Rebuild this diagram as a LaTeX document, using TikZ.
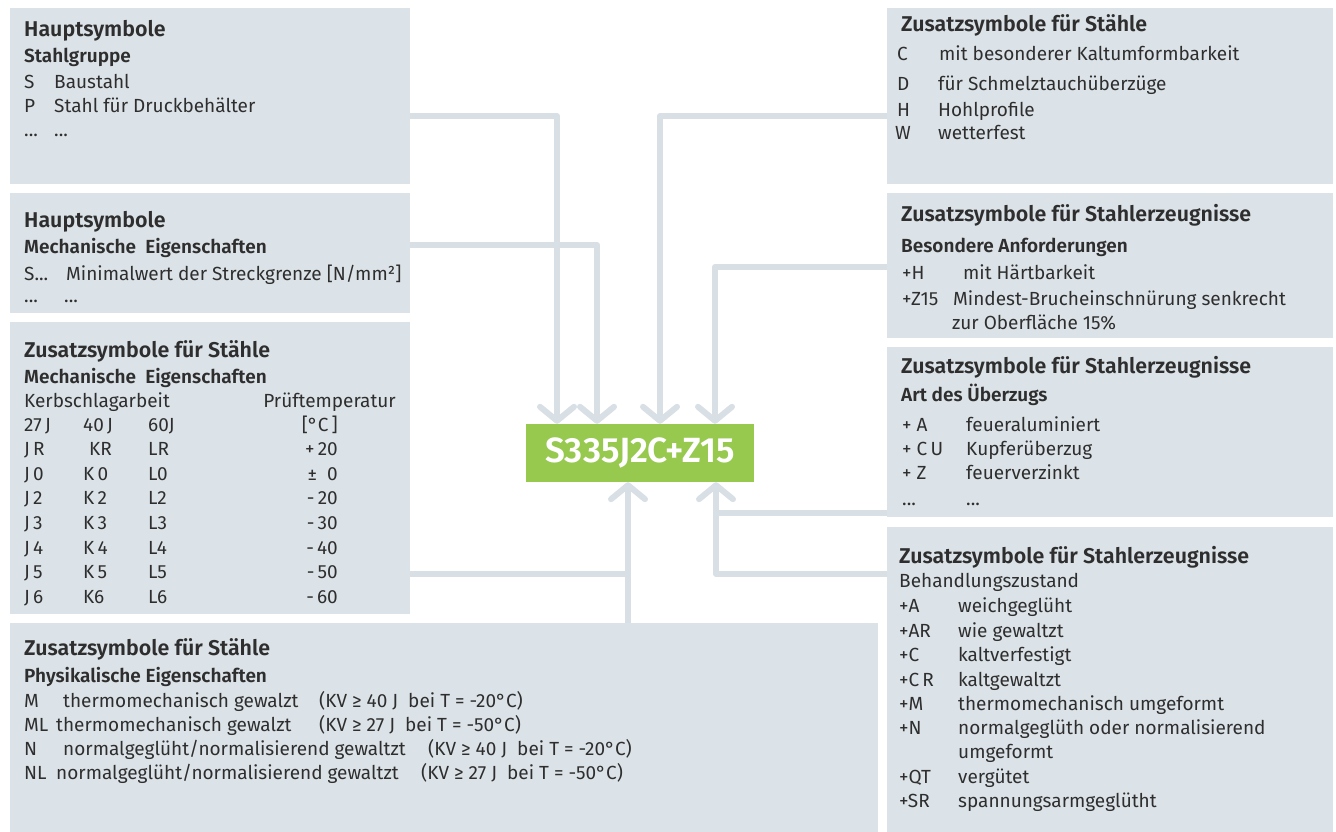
\documentclass[tikz,border=0pt]{standalone}
\usepackage{fontspec}
\setmainfont{Fira Sans}[BoldFont={Fira Sans SemiBold}]
\usetikzlibrary{arrows.meta}
\definecolor{boxc}{HTML}{DCE3E8}
\definecolor{linec}{HTML}{D8E0E6}
\definecolor{greenc}{HTML}{97C94F}
\definecolor{txtc}{HTML}{2E2E2E}
\tikzset{
 panel/.style={fill=boxc, draw=none, inner sep=0pt, outer sep=0pt, anchor=north west},
 ttl/.style={anchor=base west, inner sep=0pt, text=txtc, font=\fontsize{21.4}{24}\selectfont\bfseries},
 sub/.style={anchor=base west, inner sep=0pt, text=txtc, font=\fontsize{19}{22}\selectfont\bfseries},
 bod/.style={anchor=base west, inner sep=0pt, text=txtc, font=\fontsize{19}{22}\selectfont},
 bodr/.style={bod, anchor=base east},
 conn/.style={draw=linec, line width=6pt, line join=round},
 arr/.style={conn, -{Straight Barb[length=14pt, width=34pt, round]}},
}
\newcommand\kvline[3]{(KV ≥ #1 J\hspace{10pt}bei T = #2°C)}
\begin{document}
\begin{tikzpicture}[x=1pt,y=-1pt]
\useasboundingbox (0,0) rectangle (1336,832);
% panels
\node[panel, minimum width=400pt, minimum height=176pt] (L1) at (10,8) {};
\node[panel, minimum width=400pt, minimum height=120pt] (L2) at (10,193) {};
\node[panel, minimum width=400pt, minimum height=292pt] (L3) at (10,322) {};
\node[panel, minimum width=868pt, minimum height=209pt] (B) at (10,623) {};
\node[panel, minimum width=446pt, minimum height=176pt] (R1) at (887,8) {};
\node[panel, minimum width=446pt, minimum height=145pt] (R2) at (887,193) {};
\node[panel, minimum width=446pt, minimum height=170pt] (R3) at (887,347) {};
\node[panel, minimum width=446pt, minimum height=305pt] (R4) at (887,527) {};
% centre code
\node[fill=greenc, minimum width=228pt, minimum height=58pt, inner sep=0pt, text=white,
      font=\fontsize{35}{38}\selectfont\bfseries] (code) at (640,453) {S335J2C+Z15};
% connectors
\draw[arr] (L1.east |- 0,116) -| (code.north -| 557,0);
\draw[arr] (L2.east |- 0,245) -| (code.north -| 597,0);
\draw[arr] (R1.west |- 0,116) -| (code.north -| 660,0);
\draw[arr] (R2.west |- 0,267) -| (code.north -| 715,0);
\coordinate (j1) at (628,574);
\coordinate (j2) at (716,513);
\draw[conn] (L3.east |- j1) -- (j1);
\draw[arr] (B.north -| j1) -- (code.south -| j1);
\draw[conn] (R3.west |- j2) -- (j2);
\draw[arr] (R4.west |- 0,574) -| (code.south -| j2);
% L1
\node[ttl] (l1t) at (24,37) {Hauptsymbole};
\node[sub] (l1s) at (24,63) {Stahlgruppe};
\node[bod] (l1a) at (24,89) {S};
\node[bod] (l1b) at (54,89) {Baustahl};
\node[bod] (l1c) at (24,112.5) {P};
\node[bod] (l1d) at (54,112.5) {Stahl für Druckbehälter};
\node[bod] (l1e) at (24,137) {...};
\node[bod] (l1f) at (54,137) {...};
% L2
\node[ttl] (l2t) at (24,227) {Hauptsymbole};
\node[sub] (l2s) at (24,253) {Mechanische\ \ Eigenschaften};
\node[bod] (l2a) at (24,280) {S...};
\node[bod] (l2b) at (66,280) {Minimalwert der Streckgrenze [N/mm²]};
\node[bod] (l2c) at (24,302) {...};
\node[bod] (l2d) at (64,302) {...};
% L3
\node[ttl] (l3t) at (24,357) {Zusatzsymbole für Stähle};
\node[sub] (l3s) at (24,383) {Mechanische\ \ Eigenschaften};
\node[bod] (l3k) at (24,407) {Kerbschlagarbeit};
\node[bodr] (l3p) at (396,407) {Prüftemperatur};
\foreach \a/\b/\c/\d [count=\i] in {27\,J/40\,J/60J/[°C\,],J\,R/\hspace{6pt}KR/LR/+\,20,J\,0/K\,0/L0/±\ \ 0,J\,2/K\,2/L2/-\,20,J\,3/K\,3/L3/-\,30,J\,4/K\,4/L4/-\,40,J\,5/K\,5/L5/-\,50,J\,6/K6/L6/-\,60}{
  \node[bod] (ra\i) at (24,{406.5+24.6*\i}) {\a};
  \node[bod] (rb\i) at (83,{406.5+24.6*\i}) {\b};
  \node[bod] (rc\i) at (148,{406.5+24.6*\i}) {\c};
  \node[bodr] (rd\i) at (338,{406.5+24.6*\i}) {\d};
}
% bottom
\node[ttl] (bt) at (24,655) {Zusatzsymbole für Stähle};
\node[sub] (bs) at (24,682) {Physikalische Eigenschaften};
\node[bod] (b1a) at (24,707) {M};
\node[bod] (b1b) at (63,707) {thermomechanisch gewalzt};
\node[bod] (b1c) at (319,707) {\kvline{40}{-20}{}};
\node[bod] (b2a) at (24,731) {ML};
\node[bod] (b2b) at (56,731) {thermomechanisch gewalzt};
\node[bod] (b2c) at (319,731) {\kvline{27}{-50}{}};
\node[bod] (b3a) at (24,755) {N};
\node[bod] (b3b) at (63,755) {normalgeglüht/normalisierend gewaltzt};
\node[bod] (b3c) at (428,755) {\kvline{40}{-20}{}};
\node[bod] (b4a) at (24,779) {NL};
\node[bod] (b4b) at (56,779) {normalgeglüht/normalisierend gewaltzt};
\node[bod] (b4c) at (421,779) {\kvline{27}{-50}{}};
% R1
\node[ttl] (r1t) at (901,32) {Zusatzsymbole für Stähle};
\node[bod] (r1a) at (897,61) {C};
\node[bod] (r1b) at (939,61) {mit besonderer Kaltumformbarkeit};
\node[bod] (r1c) at (897,91) {D};
\node[bod] (r1d) at (938,91) {für Schmelztauchüberzüge};
\node[bod] (r1e) at (897,117) {H};
\node[bod] (r1f) at (938,117) {Hohlprofile};
\node[bod] (r1g) at (895,140) {W};
\node[bod] (r1h) at (938,140) {wetterfest};
% R2
\node[ttl] (r2t) at (901,221) {Zusatzsymbole für Stahlerzeugnisse};
\node[sub] (r2s) at (901,252) {Besondere Anforderungen};
\node[bod] (r2a) at (902,279) {+H};
\node[bod] (r2b) at (963,279) {mit Härtbarkeit};
\node[bod] (r2c) at (902,305) {+Z15};
\node[bod] (r2d) at (953,305) {Mindest-Brucheinschnürung senkrecht};
\node[bod] (r2e) at (952,329) {zur Oberfläche 15\%};
% R3
\node[ttl] (r3t) at (901,373) {Zusatzsymbole für Stahlerzeugnisse};
\node[sub] (r3s) at (901,401) {Art des Überzugs};
\node[bod] (r3a) at (902,431) {+ A};
\node[bod] (r3b) at (966,431) {feueraluminiert};
\node[bod] (r3c) at (902,455) {+ C\,U};
\node[bod] (r3d) at (966,455) {Kupferüberzug};
\node[bod] (r3e) at (902,479) {+ Z};
\node[bod] (r3f) at (966,479) {feuerverzinkt};
\node[bod] (r3g) at (902,505) {...};
\node[bod] (r3h) at (966,505) {...};
% R4
\node[ttl] (r4t) at (899,563) {Zusatzsymbole für Stahlerzeugnisse};
\node[bod] (r4s) at (899,587) {Behandlungszustand};
\foreach \a/\b/\y [count=\i] in {+A/weichgeglüht/612,+AR/wie gewaltzt/637,+C/kaltverfestigt/661,+C\,R/kaltgewaltzt/686,+M/thermomechanisch umgeformt/710,+N/normalgeglüth oder normalisierend/734,/umgeformt/758,+QT/vergütet/783,+SR/spannungsarmgeglütht/807}{
  \node[bod] (qa\i) at (899,\y) {\a};
  \node[bod] (qb\i) at (958,\y) {\b};
}
\end{tikzpicture}
\end{document}
